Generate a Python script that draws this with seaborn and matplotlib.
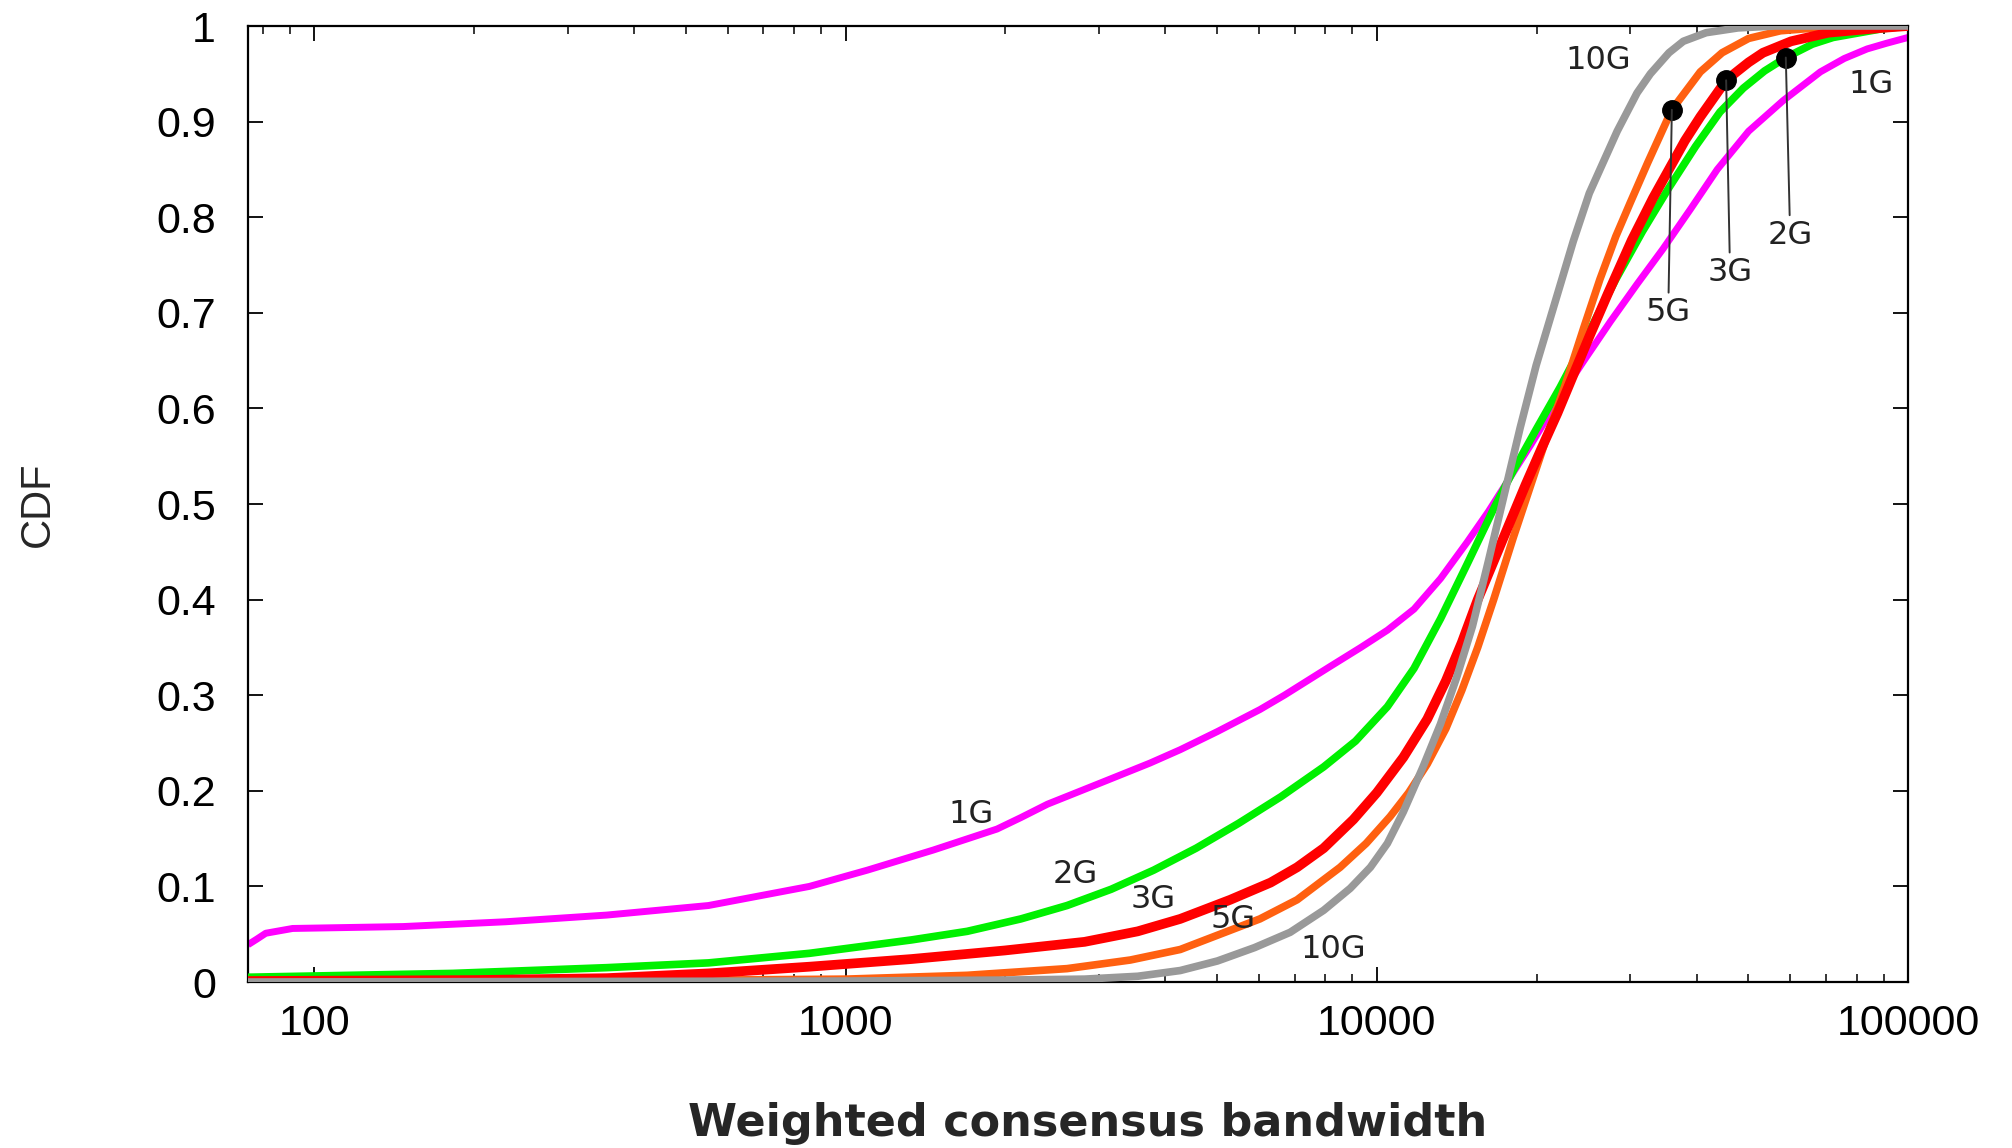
import numpy as np
import pandas as pd
import matplotlib
matplotlib.use("Agg")
import matplotlib.pyplot as plt
from matplotlib.ticker import FixedLocator, FixedFormatter, LogLocator, NullFormatter
import seaborn as sns

# ---- data: weighted consensus bandwidth vs. CDF, one array pair per link speed ----
bw_1g = [75, 78, 81, 91, 147, 229, 355, 552, 855, 1099, 1462, 1928, 2138, 2399, 3013,
         3741, 4266, 5012, 6026, 6699, 8166, 9333, 10471, 11749, 13183, 14791, 16218,
         17458, 19498, 21878, 24547, 27542, 30903, 34594, 38905, 43752, 50119, 58210,
         68391, 75858, 83753, 91201, 100000]
cdf_1g = [0.039, 0.045, 0.051, 0.056, 0.058, 0.063, 0.070, 0.080, 0.100, 0.117, 0.138,
          0.160, 0.172, 0.186, 0.208, 0.229, 0.243, 0.262, 0.285, 0.300, 0.330, 0.350,
          0.368, 0.390, 0.422, 0.460, 0.492, 0.520, 0.562, 0.608, 0.650, 0.691, 0.730,
          0.767, 0.808, 0.850, 0.890, 0.922, 0.952, 0.966, 0.976, 0.982, 0.988]

bw_2g = [75, 182, 355, 552, 855, 1330, 1694, 2138, 2612, 3162, 3802, 4571, 5495, 6607,
         7943, 9120, 10471, 11749, 13183, 14791, 16596, 18072, 19953, 22131, 24831, 28184,
         31623, 35400, 39811, 44259, 48978, 53703, 58884, 66069, 72277, 89125, 100000]
cdf_2g = [0.005, 0.009, 0.015, 0.020, 0.030, 0.044, 0.053, 0.066, 0.080, 0.097, 0.117,
          0.140, 0.166, 0.194, 0.225, 0.252, 0.288, 0.328, 0.380, 0.437, 0.495, 0.535,
          0.578, 0.622, 0.675, 0.735, 0.785, 0.830, 0.874, 0.910, 0.935, 0.953, 0.967,
          0.981, 0.988, 0.997, 1.0]

bw_3g = [75, 200, 355, 552, 855, 1330, 1995, 2818, 3548, 4266, 5297, 6310, 7079, 7943,
         9036, 10000, 11220, 12445, 13490, 14454, 15488, 16596, 17783, 19055, 20417, 21878,
         23442, 25119, 27227, 30200, 33113, 35156, 38019, 40644, 45499, 50119, 53333, 60256,
         70795, 89125, 100000]
cdf_3g = [0.001, 0.002, 0.004, 0.009, 0.016, 0.024, 0.033, 0.042, 0.053, 0.066, 0.086,
          0.104, 0.120, 0.140, 0.170, 0.198, 0.235, 0.275, 0.315, 0.355, 0.400, 0.440,
          0.480, 0.520, 0.558, 0.595, 0.635, 0.675, 0.720, 0.776, 0.820, 0.846, 0.880,
          0.905, 0.9435, 0.962, 0.972, 0.984, 0.993, 0.998, 1.0]

bw_5g = [75, 316, 1000, 1694, 2612, 3436, 4266, 5070, 6026, 7079, 8531, 9550, 10593, 11482,
         12445, 13490, 14454, 15488, 16596, 18072, 19498, 20893, 22646, 24547, 26303, 28184,
         29992, 32359, 35892, 40644, 44668, 50119, 57544, 70795, 100000]
cdf_5g = [0.0, 0.001, 0.003, 0.007, 0.014, 0.023, 0.034, 0.050, 0.066, 0.086, 0.120, 0.145,
          0.173, 0.198, 0.228, 0.265, 0.305, 0.350, 0.400, 0.465, 0.520, 0.570, 0.625, 0.685,
          0.735, 0.780, 0.815, 0.857, 0.912, 0.952, 0.972, 0.987, 0.995, 0.999, 1.0]

bw_10g = [75, 1000, 1995, 2818, 3548, 4266, 5012, 5888, 6871, 7943, 8913, 9727, 10471, 11220,
          12218, 13183, 14125, 15136, 16218, 17378, 18621, 19953, 21627, 23442, 25119, 28350,
          30903, 32734, 35481, 37757, 41687, 47863, 56234, 100000]
cdf_10g = [0.0, 0.001, 0.002, 0.003, 0.006, 0.012, 0.022, 0.036, 0.052, 0.075, 0.098, 0.120,
           0.145, 0.178, 0.225, 0.270, 0.318, 0.372, 0.440, 0.510, 0.580, 0.645, 0.710, 0.775,
           0.825, 0.890, 0.930, 0.950, 0.972, 0.984, 0.993, 0.998, 1.0, 1.0]

series_names = ["1G", "2G", "3G", "5G", "10G"]
series_bw = [bw_1g, bw_2g, bw_3g, bw_5g, bw_10g]
series_cdf = [cdf_1g, cdf_2g, cdf_3g, cdf_5g, cdf_10g]
series_colors = ["#ff00ff", "#00f000", "#ff0000", "#ff6010", "#999999"]

# callouts near the top: dot on a curve, label below it
callout_series = ["5G", "3G", "2G"]
callout_bw = [35930, 45460, 58880]
callout_label_bw = [35370, 46240, 60000]
callout_label_cdf = [0.700, 0.742, 0.781]

# plain curve labels
curve_labels = ["10G", "1G", "1G", "2G", "3G", "5G", "10G"]
curve_label_bw = [26100, 85200, 1725, 2704, 3794, 5370, 8280]
curve_label_cdf = [0.964, 0.939, 0.175, 0.112, 0.086, 0.065, 0.0335]

x_ticks = [100, 1000, 10000, 100000]
x_ticklabels = ["100", "1000", "10000", "100000"]
y_ticks = [0.0, 0.1, 0.2, 0.3, 0.4, 0.5, 0.6, 0.7, 0.8, 0.9, 1.0]
y_ticklabels = ["0", "0.1", "0.2", "0.3", "0.4", "0.5", "0.6", "0.7", "0.8", "0.9", "1"]

# ---- figure ----
sns.set_theme(style="ticks")
plt.rcParams["font.family"] = ["Liberation Sans", "DejaVu Sans"]

fig = plt.figure(figsize=(20.12, 11.48), dpi=100)
ax = fig.add_axes([248 / 2012, 1 - 982 / 1148, 1660 / 2012, 956 / 1148])

df = pd.concat(
    [pd.DataFrame({"bandwidth": b, "cdf": c, "series": n})
     for n, b, c in zip(series_names, series_bw, series_cdf)],
    ignore_index=True,
)
sns.lineplot(data=df, x="bandwidth", y="cdf", hue="series", hue_order=series_names,
             palette=dict(zip(series_names, series_colors)), estimator=None, sort=False,
             legend=False, ax=ax)

widths = {"1G": 5.0, "2G": 5.5, "3G": 7.0, "5G": 5.5, "10G": 5.5}
zorders = {"1G": 2, "2G": 3, "3G": 5, "5G": 4, "10G": 6}
for line, name in zip(ax.lines, series_names):
    line.set_linewidth(widths[name])
    line.set_zorder(zorders[name])
    line.set_solid_capstyle("butt")
    line.set_solid_joinstyle("round")

ax.set_xscale("log")
ax.set_xlim(75, 100000)
ax.set_ylim(0, 1)

# callout dots sit on their curves
for name, bx, lx, ly in zip(callout_series, callout_bw, callout_label_bw, callout_label_cdf):
    i = series_names.index(name)
    y = np.interp(np.log10(bx), np.log10(series_bw[i]), series_cdf[i])
    ax.plot([bx], [y], marker="o", markersize=14, color="black", zorder=10)
    ax.annotate(name, xy=(bx, y), xytext=(lx, ly), ha="center", va="center",
                fontsize=23, family="DejaVu Sans", color="#222222", zorder=10,
                arrowprops=dict(arrowstyle="-", color="#333333", lw=1.4,
                                shrinkA=1, shrinkB=0))

for t, bx, cy in zip(curve_labels, curve_label_bw, curve_label_cdf):
    ax.text(bx, cy, t, ha="center", va="center", fontsize=23, family="DejaVu Sans",
            color="#222222", zorder=10)

# axes styling
ax.xaxis.set_major_locator(FixedLocator(x_ticks))
ax.xaxis.set_major_formatter(FixedFormatter(x_ticklabels))
ax.xaxis.set_minor_locator(LogLocator(base=10, subs=np.arange(2, 10)))
ax.xaxis.set_minor_formatter(NullFormatter())
ax.yaxis.set_major_locator(FixedLocator(y_ticks))
ax.yaxis.set_major_formatter(FixedFormatter(y_ticklabels))

ax.tick_params(axis="both", which="both", direction="in", top=True, right=True,
               colors="black", labelsize=31)
ax.tick_params(axis="both", which="major", length=11, width=1.3)
ax.tick_params(axis="x", which="minor", length=5.5, width=1.1)
ax.tick_params(axis="x", which="major", pad=16)
ax.tick_params(axis="y", which="major", pad=23)

for sp in ax.spines.values():
    sp.set_color("black")
    sp.set_linewidth(1.6)

ax.set_xlabel("Weighted consensus bandwidth", fontsize=32, family="DejaVu Sans",
              fontweight="bold", va="center")
ax.xaxis.set_label_coords(0.506, -0.1475)
ax.set_ylabel("CDF", fontsize=30, va="center")
ax.yaxis.set_label_coords(-0.1265, 0.5)

fig.savefig("out.png", dpi=100, facecolor="white")
